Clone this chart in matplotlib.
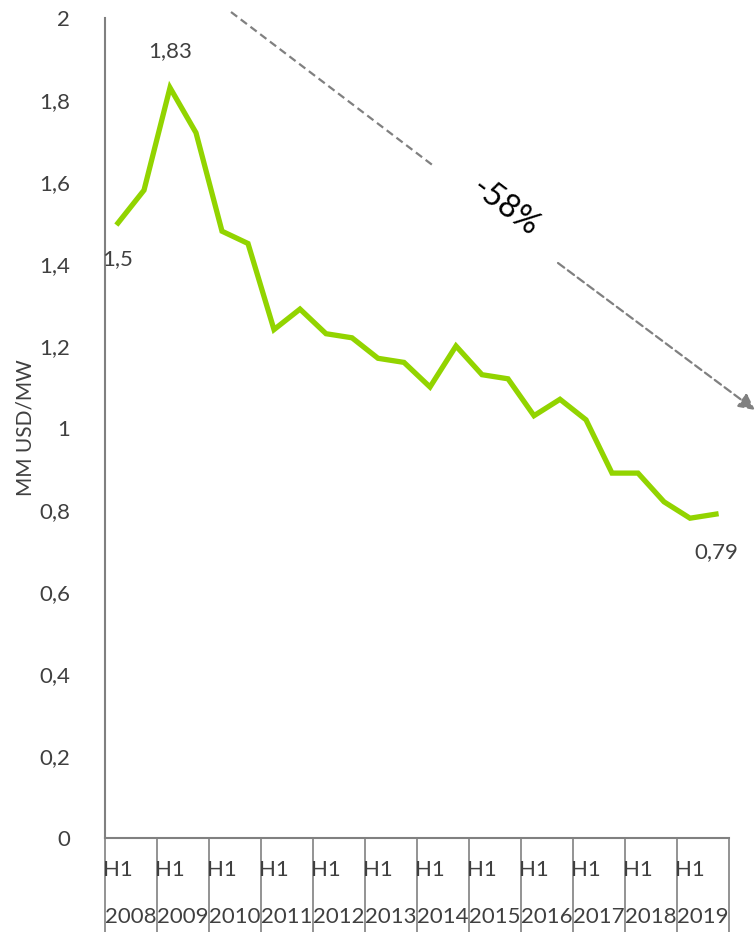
import numpy as np
import matplotlib.pyplot as plt

plt.rcParams['font.family'] = ['Lato', 'DejaVu Sans']

years = ['2008', '2009', '2010', '2011', '2012', '2013',
         '2014', '2015', '2016', '2017', '2018', '2019']
values = [1.50, 1.58, 1.83, 1.72, 1.48, 1.45, 1.24, 1.29, 1.23, 1.22, 1.17, 1.16,
          1.10, 1.20, 1.13, 1.12, 1.03, 1.07, 1.02, 0.89, 0.89, 0.82, 0.78, 0.79]
yticks = [0, 0.2, 0.4, 0.6, 0.8, 1.0, 1.2, 1.4, 1.6, 1.8, 2.0]
ytick_labels = ['0', '0,2', '0,4', '0,6', '0,8', '1', '1,2', '1,4', '1,6', '1,8', '2']

W, H = 756, 935
fig = plt.figure(figsize=(W / 100, H / 100), dpi=100)
ax = fig.add_axes([105 / W, 1 - 838 / H, (729 - 105) / W, (838 - 18) / H])

txt = '#404040'
grey = '#808080'
fs = 16
x = np.arange(len(values))
ax.plot(x, values, color='#92D400', linewidth=3.8, solid_joinstyle='miter')

ax.set_xlim(-0.5, len(values) - 0.5)
ax.set_ylim(0, 2)
ax.set_yticks(yticks)
ax.set_yticklabels(ytick_labels, color=txt, fontsize=fs)
ax.tick_params(axis='y', length=0, pad=25)

bounds = np.arange(-0.5, len(values), 2)
ax.set_xticks(bounds)
ax.set_xticklabels([])
ax.tick_params(axis='x', length=68, width=1.2, color=grey, direction='out')

for s in ['top', 'right']:
    ax.spines[s].set_visible(False)
for s in ['left', 'bottom']:
    ax.spines[s].set_color(grey)
    ax.spines[s].set_linewidth(1.5)

ax.set_ylabel('MM USD/MW', color=txt, fontsize=15)
ax.yaxis.set_label_coords(-0.128, 0.5)
ax.yaxis.label.set_verticalalignment('center')

# category labels: half-year under the first point, year centred in its cell
tr = ax.get_xaxis_transform()
for i, yr in enumerate(years):
    ax.text(2 * i, -32 / 820, 'H1', transform=tr, ha='center', va='center',
            fontsize=fs, color=txt)
    ax.text(2 * i + 0.5, -79 / 820, yr, transform=tr, ha='center', va='center',
            fontsize=fs, color=txt)

# data labels
ax.annotate('1,83', (2, values[2]), xytext=(0, 26), textcoords='offset points',
            ha='center', va='center', fontsize=fs, color=txt)
ax.annotate('1,5', (0, values[0]), xytext=(0, -26), textcoords='offset points',
            ha='center', va='center', fontsize=fs, color=txt)
ax.annotate('0,79', (23, values[23]), xytext=(0, -27), textcoords='offset points',
            ha='center', va='center', fontsize=fs, color=txt)

# trend arrow with gap for the label
def fp(px, py):
    return (px / W, 1 - py / H)

fig.add_artist(plt.Line2D([fp(231, 12)[0], fp(435, 167)[0]],
                          [fp(231, 12)[1], fp(435, 167)[1]],
                          transform=fig.transFigure, color=grey,
                          linewidth=1.6, linestyle=(0, (3.5, 2))))
ax.annotate('', xy=fp(755, 410), xytext=fp(558, 263),
            xycoords='figure fraction', textcoords='figure fraction',
            arrowprops=dict(arrowstyle='-|>', color=grey, lw=1.6,
                            linestyle=(0, (3.5, 2)), mutation_scale=24,
                            shrinkA=0, shrinkB=0),
            annotation_clip=False)
fig.text(*fp(505, 207), '-58%', rotation=-37, ha='center', va='center',
         fontsize=23, color='black', rotation_mode='anchor')

fig.savefig('out.png', dpi=100)
